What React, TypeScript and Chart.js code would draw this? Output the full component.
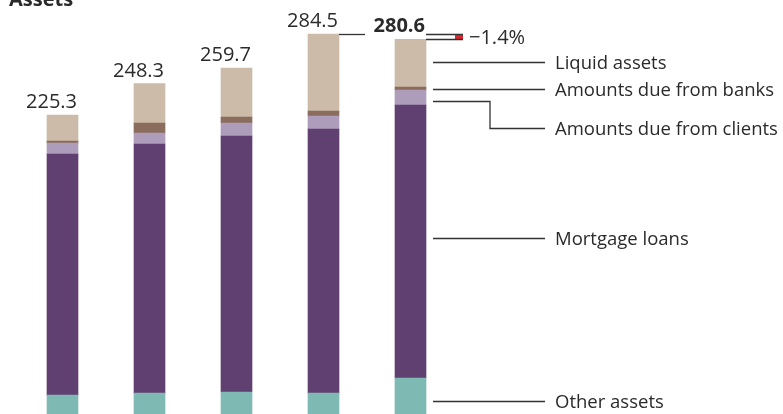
import { useEffect, useRef } from 'react';
import { Chart, registerables } from 'chart.js';

Chart.register(...registerables);

// Balance sheet assets, CHF bn, stacked from the bottom up
const periods = ['P1', 'P2', 'P3', 'P4', 'P5'];
const otherAssets = [20.7, 22.1, 22.9, 22.1, 33.1];
const mortgageLoans = [176.1, 182.0, 187.1, 193.0, 199.5];
const dueFromClients = [8.0, 8.0, 9.5, 9.5, 11.0];
const dueFromBanks = [1.5, 7.3, 4.4, 3.7, 2.2];
const liquidAssets = [19.0, 28.9, 35.8, 56.2, 34.8];
const totals = [225.3, 248.3, 259.7, 284.5, 280.6];
const totalLabels = ['225.3', '248.3', '259.7', '284.5', '280.6'];
const seriesNames = [
  'Other assets',
  'Mortgage loans',
  'Amounts due from clients',
  'Amounts due from banks',
  'Liquid assets',
];
const changeLabel = '\u22121.4%';
const chartTitle = 'Assets';

const COLORS = ['#7FB9B4', '#5F4071', '#AE9CBB', '#8A6D5D', '#CDBBA9'];
const FONT = '"Open Sans", sans-serif';
const INK = '#2a2a2a';
const LINE = '#333333';

// small vertical nudges of the leader lines relative to segment centres
const leaderNudge = [0, -4, 3, 0, -1];

const annotations = {
  id: 'annotations',
  afterDatasetsDraw(chart: any) {
    const { ctx } = chart;
    const y = chart.scales.y;
    const bars = chart.getDatasetMeta(0).data;
    const rightOf = (i: number) => bars[i].x + bars[i].width / 2;
    ctx.save();

    // Title
    ctx.fillStyle = INK;
    ctx.font = `bold 20px ${FONT}`;
    ctx.textAlign = 'left';
    ctx.textBaseline = 'alphabetic';
    ctx.fillText(chartTitle, 9, 5.5);

    // Totals above each bar
    const last = totals.length - 1;
    totals.forEach((t, i) => {
      ctx.font = i === last ? `bold 20px ${FONT}` : `20px ${FONT}`;
      ctx.textAlign = 'right';
      ctx.fillText(totalLabels[i], rightOf(i) - 1, y.getPixelForValue(t) - 7);
    });

    ctx.strokeStyle = LINE;
    ctx.lineWidth = 1.3;

    // Connector from the previous total
    const prevY = Math.round(y.getPixelForValue(totals[last - 1])) + 0.5;
    const curY = Math.round(y.getPixelForValue(totals[last])) + 0.5;
    ctx.beginPath();
    ctx.moveTo(rightOf(last - 1), prevY);
    ctx.lineTo(rightOf(last - 1) + 26, prevY);
    ctx.stroke();

    // Change marker
    const bx = rightOf(last);
    ctx.fillStyle = '#ffffff';
    ctx.fillRect(bx, prevY, 37, curY - prevY);
    ctx.fillStyle = '#E0262B';
    ctx.fillRect(bx + 29, prevY, 8, curY - prevY);
    ctx.beginPath();
    ctx.moveTo(bx, prevY);
    ctx.lineTo(bx + 37, prevY);
    ctx.moveTo(bx, curY);
    ctx.lineTo(bx + 37, curY);
    ctx.stroke();
    ctx.fillStyle = INK;
    ctx.font = `20px ${FONT}`;
    ctx.textAlign = 'left';
    ctx.textBaseline = 'middle';
    ctx.fillText(changeLabel, bx + 43, (prevY + curY) / 2 + 1);

    // Series labels with leader lines off the last bar
    const mids: number[] = [];
    chart.data.datasets.forEach((_: any, d: number) => {
      const el = chart.getDatasetMeta(d).data[last];
      const bottom = Math.min(el.base, chart.chartArea.bottom + 10);
      mids[d] = (el.y + bottom) / 2 + leaderNudge[d];
    });
    const x0 = bx + 7;
    const x1 = bx + 119;
    const tx = bx + 129;
    const labelY: number[] = mids.slice();
    labelY[2] = mids[3] + 39;
    ctx.font = `18.5px ${FONT}`;
    for (let d = 4; d >= 0; d--) {
      const ly = Math.round(mids[d]) + 0.5;
      const ty = Math.round(labelY[d]) + 0.5;
      ctx.beginPath();
      if (d === 2) {
        const ex = bx + 64;
        ctx.moveTo(x0, ly);
        ctx.lineTo(ex, ly);
        ctx.lineTo(ex, ty);
        ctx.lineTo(x1, ty);
      } else {
        ctx.moveTo(x0, ly);
        ctx.lineTo(x1, ly);
      }
      ctx.stroke();
      ctx.fillText(seriesNames[d], tx, ty + 1);
    }

    ctx.restore();
  },
};

export default function App() {
  const ref = useRef<HTMLCanvasElement | null>(null);

  useEffect(() => {
    if (!ref.current) return;
    const series = [otherAssets, mortgageLoans, dueFromClients, dueFromBanks, liquidAssets];
    const chart = new Chart(ref.current, {
      type: 'bar',
      data: {
        labels: periods,
        datasets: series.map((values, i) => ({
          label: seriesNames[i],
          data: values,
          backgroundColor: COLORS[i],
          borderWidth: 0,
          barThickness: 31,
        })),
      },
      options: {
        animation: false,
        responsive: false,
        devicePixelRatio: 1,
        layout: { padding: { left: 19, right: 329, top: 0, bottom: 0 } },
        scales: {
          x: { stacked: true, display: false, grid: { display: false } },
          y: { stacked: true, display: false, min: 6.8, max: 309.4, grid: { display: false } },
        },
        plugins: {
          legend: { display: false },
          tooltip: { enabled: false },
          title: { display: false },
        },
      },
      plugins: [annotations],
    });
    return () => chart.destroy();
  }, []);

  return (
    <div style={{ position: 'absolute', left: 0, top: 0, width: 783, height: 414, background: '#fff' }}>
      <canvas ref={ref} width={783} height={414} style={{ display: 'block' }} />
    </div>
  );
}
